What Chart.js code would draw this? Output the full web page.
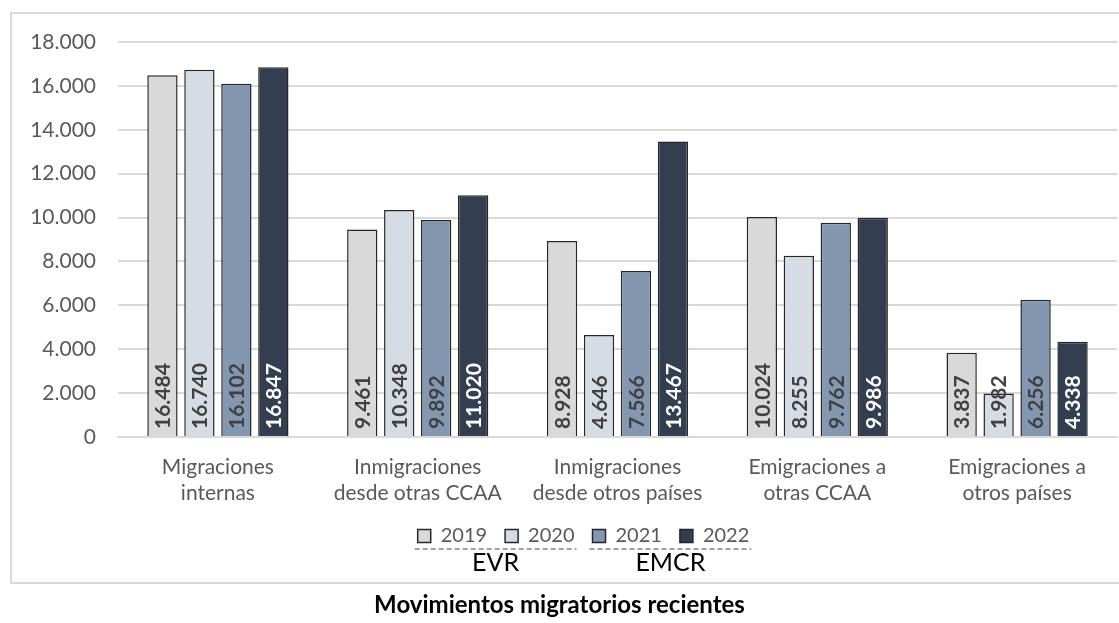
<!DOCTYPE html>
<html>
<head>
<meta charset="utf-8">
<script src="https://cdn.jsdelivr.net/npm/chart.js@4"></script>
<style>
  html, body { margin: 0; padding: 0; background: #ffffff; }
  body { width: 1119px; height: 623px; position: relative; overflow: hidden; }
  #box { position: absolute; left: 10px; top: 12px; width: 1130px; height: 572px; border: 2px solid #d9d9d9; box-sizing: border-box; }
  #c { position: absolute; left: 0; top: 0; }
  #title { position: absolute; left: 0; top: 589px; width: 1119px; text-align: center; font-family: Lato, "Open Sans", sans-serif; font-weight: bold; font-size: 24px; line-height: 30px; color: #000000; }
</style>
</head>
<body>
<div id="box"></div>
<canvas id="c" width="1119" height="623"></canvas>
<div id="title">Movimientos migratorios recientes</div>
<script>
const categories = [
  ["Migraciones", "internas"],
  ["Inmigraciones", "desde otras CCAA"],
  ["Inmigraciones", "desde otros países"],
  ["Emigraciones a", "otras CCAA"],
  ["Emigraciones a", "otros países"]
];
const seriesNames = ["2019", "2020", "2021", "2022"];
const values2019 = [16484, 9461, 8928, 10024, 3837];
const values2020 = [16740, 10348, 4646, 8255, 1982];
const values2021 = [16102, 9892, 7566, 9762, 6256];
const values2022 = [16847, 11020, 13467, 9986, 4338];
const yTicks = [0, 2000, 4000, 6000, 8000, 10000, 12000, 14000, 16000, 18000];
const groupLabels = ["EVR", "EMCR"];

const seriesValues = [values2019, values2020, values2021, values2022];
const fillColors = ["#d9d9d9", "#d6dce5", "#8497b0", "#333f50"];
const labelColors = ["#404040", "#404040", "#404040", "#ffffff"];
const FONT = "Lato, 'Open Sans', sans-serif";

function fmt(v) {
  return String(v).replace(/\B(?=(\d{3})+(?!\d))/g, ".");
}

const valueLabelPlugin = {
  id: "valueLabels",
  afterDatasetsDraw(chart) {
    const ctx = chart.ctx;
    chart.data.datasets.forEach((ds, di) => {
      const meta = chart.getDatasetMeta(di);
      meta.data.forEach((bar, i) => {
        ctx.save();
        ctx.translate(bar.x, bar.base - 7);
        ctx.rotate(-Math.PI / 2);
        ctx.font = "bold 21px " + FONT;
        ctx.fillStyle = labelColors[di];
        ctx.textAlign = "left";
        ctx.textBaseline = "middle";
        ctx.fillText(fmt(ds.data[i]), 0, 1);
        ctx.restore();
      });
    });
  }
};

const legendShiftPlugin = {
  id: "legendShift",
  afterLayout(chart) {
    const lg = chart.legend;
    if (!lg) return;
    const dx = 20;
    lg.left += dx;
    lg.right += dx;
    if (typeof lg.adjustHitBoxes === "function") lg.adjustHitBoxes();
  },
  afterDraw(chart) {
    const lg = chart.legend;
    if (!lg || !lg.legendHitBoxes || lg.legendHitBoxes.length < 4) return;
    const hb = lg.legendHitBoxes;
    const ctx = chart.ctx;
    const yLine = 549;
    const spans = [
      [hb[0].left - 3, hb[1].left + hb[1].width + 2],
      [hb[2].left - 3, hb[3].left + hb[3].width + 2]
    ];
    ctx.save();
    ctx.strokeStyle = "#808080";
    ctx.lineWidth = 1.5;
    ctx.setLineDash([5, 3]);
    spans.forEach(s => {
      ctx.beginPath();
      ctx.moveTo(s[0], yLine);
      ctx.lineTo(s[1], yLine);
      ctx.stroke();
    });
    ctx.setLineDash([]);
    ctx.font = "25px " + FONT;
    ctx.fillStyle = "#000000";
    ctx.textAlign = "center";
    ctx.textBaseline = "middle";
    spans.forEach((s, k) => {
      ctx.fillText(groupLabels[k], (s[0] + s[1]) / 2, 563);
    });
    ctx.restore();
  }
};

new Chart(document.getElementById("c"), {
  type: "bar",
  data: {
    labels: categories,
    datasets: seriesNames.map((name, k) => ({
      label: name,
      data: seriesValues[k],
      backgroundColor: fillColors[k],
      borderColor: "#262626",
      borderWidth: 1.5,
      borderSkipped: "bottom",
      categoryPercentage: 0.74,
      barPercentage: 0.82
    }))
  },
  options: {
    responsive: false,
    animation: false,
    devicePixelRatio: 1,
    layout: { padding: { left: 10, right: 2, top: 42, bottom: 67 } },
    plugins: {
      title: { display: false },
      tooltip: { enabled: false },
      legend: {
        display: true,
        position: "bottom",
        labels: {
          boxWidth: 13,
          boxHeight: 13,
          padding: 18,
          color: "#595959",
          font: { family: FONT, size: 20 }
        }
      }
    },
    scales: {
      x: {
        grid: { display: false, drawTicks: false },
        border: { display: true, color: "#d9d9d9", width: 2 },
        ticks: {
          color: "#595959",
          font: { family: FONT, size: 21, lineHeight: 1.2 },
          maxRotation: 0,
          autoSkip: false,
          padding: 18
        },
        afterFit(scale) { scale.height = 71; }
      },
      y: {
        min: 0,
        max: 18000,
        afterBuildTicks(scale) { scale.ticks = yTicks.map(v => ({ value: v })); },
        ticks: {
          color: "#595959",
          font: { family: FONT, size: 21 },
          padding: 22,
          callback: v => fmt(v)
        },
        grid: { color: "#d9d9d9", lineWidth: 2, drawTicks: false },
        border: { display: false },
        afterFit(scale) { scale.width = 108; }
      }
    }
  },
  plugins: [valueLabelPlugin, legendShiftPlugin]
});
</script>
</body>
</html>
